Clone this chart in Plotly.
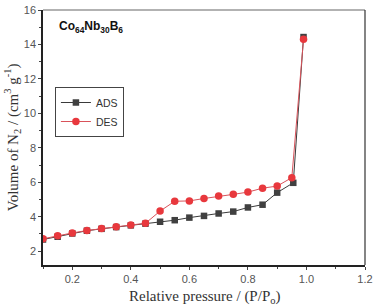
import plotly.graph_objects as go

x_ads = [0.1, 0.15, 0.2, 0.25, 0.3, 0.35, 0.4, 0.45, 0.5, 0.55, 0.6, 0.65, 0.7, 0.75, 0.8, 0.85, 0.9, 0.955, 0.99]
y_ads = [2.68, 2.84, 3.03, 3.19, 3.3, 3.4, 3.5, 3.6, 3.71, 3.8, 3.95, 4.05, 4.19, 4.3, 4.54, 4.7, 5.4, 5.97, 14.43]

x_des = [0.1, 0.15, 0.2, 0.25, 0.3, 0.35, 0.4, 0.45, 0.5, 0.55, 0.6, 0.65, 0.7, 0.75, 0.8, 0.85, 0.9, 0.95, 0.99]
y_des = [2.72, 2.9, 3.06, 3.2, 3.32, 3.42, 3.52, 3.62, 4.33, 4.9, 4.92, 5.06, 5.2, 5.3, 5.43, 5.66, 5.78, 6.27, 14.3]

x_ticks = [0.2, 0.4, 0.6, 0.8, 1.0, 1.2]
y_ticks = [2, 4, 6, 8, 10, 12, 14, 16]

fig = go.Figure()
fig.add_trace(go.Scatter(
    x=x_ads, y=y_ads, mode="lines+markers", name="ADS",
    line=dict(color="#3a3a3a", width=1),
    marker=dict(symbol="square", size=6.5, color="#404040"),
))
fig.add_trace(go.Scatter(
    x=x_des, y=y_des, mode="lines+markers", name="DES",
    line=dict(color="#d9525a", width=1),
    marker=dict(symbol="circle", size=7.5, color="#e8383d"),
))

axis_common = dict(
    showgrid=False, zeroline=False, mirror=False, automargin=False,
    ticks="outside", ticklen=3, tickcolor="#444", tickwidth=1,
    tickfont=dict(family="Arial, Liberation Sans", size=11, color="#555"),
    showline=True, linecolor="#222", linewidth=1.5,
)

title_font = dict(family="Liberation Serif, Times New Roman", size=15, color="#333")

fig.update_layout(
    width=379, height=308,
    margin=dict(l=43, r=14, t=10, b=43, autoexpand=False),
    plot_bgcolor="white", paper_bgcolor="white",
    showlegend=True,
    legend=dict(
        x=0.037, y=0.698, xanchor="left", yanchor="top",
        bordercolor="#444", borderwidth=1, bgcolor="white",
        font=dict(family="Arial, Liberation Sans", size=10.5, color="#333"),
        tracegroupgap=0, itemwidth=30,
    ),
    xaxis=dict(
        range=[0.1, 1.2], tickvals=x_ticks,
        ticktext=["0.2", "0.4", "0.6", "0.8", "1.0", "1.2"],
        minor=dict(dtick=0.1, tick0=0.1, ticks="outside", ticklen=2, tickcolor="#444"),
        **axis_common,
    ),
    yaxis=dict(
        range=[1.2, 16], tickvals=y_ticks,
        minor=dict(dtick=1, tick0=1, ticks="outside", ticklen=2, tickcolor="#444"),
        **axis_common,
    ),
    shapes=[
        dict(type="line", xref="paper", yref="paper", x0=0, x1=1, y0=1, y1=1,
             line=dict(color="#999", width=1.5)),
        dict(type="line", xref="paper", yref="paper", x0=1, x1=1, y0=0, y1=1,
             line=dict(color="#333", width=1.2)),
    ],
    annotations=[
        dict(text="<b>Co<sub>64</sub>Nb<sub>30</sub>B<sub>6</sub></b>",
             xref="paper", yref="paper", x=0.045, y=0.935, xanchor="left", yanchor="middle",
             showarrow=False, font=dict(family="Arial, Liberation Sans", size=12, color="#111")),
        dict(text="Relative pressure / (P/P<sub>o</sub>)",
             xref="paper", yref="paper", x=0.5, y=-0.125, xanchor="center", yanchor="middle",
             showarrow=False, font=title_font),
        dict(text="Volume of N<sub>2</sub> / (cm<sup>3</sup> g<sup>-1</sup>)",
             xref="paper", yref="paper", x=-0.097, y=0.5, xanchor="center", yanchor="middle",
             textangle=-90, showarrow=False, font=title_font),
    ],
)

fig.write_html(
    "out.html",
    config={"displayModeBar": False},
    post_script="document.body.style.margin='0';document.body.style.overflow='hidden';",
)
